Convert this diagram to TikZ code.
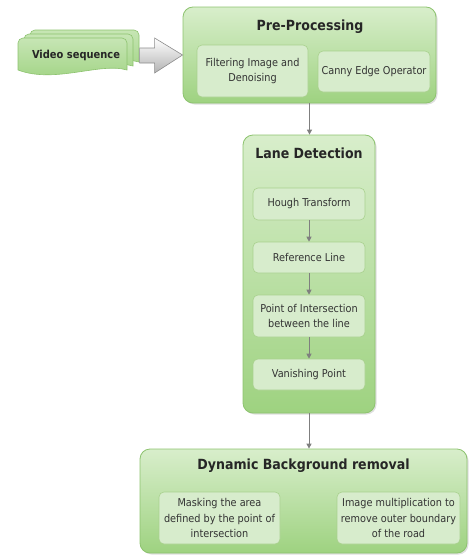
\documentclass[tikz,border=0pt]{standalone}
\usepackage{fontspec}
\setmainfont{DejaVu Sans Condensed}
\usetikzlibrary{shadows,calc,arrows.meta}
\definecolor{obord}{HTML}{8DC36F}
\definecolor{otop}{HTML}{D8EECB}
\definecolor{obot}{HTML}{9ED280}
\definecolor{ibord}{HTML}{A9D18E}
\definecolor{ifill}{HTML}{D7ECCC}
\definecolor{conn}{HTML}{7F7F7F}
\definecolor{itext}{HTML}{333333}
\tikzset{
  outerbox/.style={draw=obord, line width=0.8pt, rounded corners=10pt, top color=otop, bottom color=obot, inner sep=0pt,
    drop shadow={shadow xshift=1.5pt, shadow yshift=-1.5pt, opacity=0.25}},
  innerbox/.style={draw=ibord, line width=0.6pt, rounded corners=5pt, fill=ifill, inner sep=1pt, align=center,
    font=\fontsize{10.8}{15.5}\selectfont, text=itext},
  titletext/.style={font=\bfseries\fontsize{14}{16}\selectfont, text=black!85},
  flow/.style={draw=conn, line width=1pt, -{Triangle[length=5pt,width=5pt]}},
  docshape/.style={draw=obord, line width=0.6pt, top color=otop!70!obot, bottom color=obot},
}
\begin{document}
\begin{tikzpicture}[x=1pt,y=-1pt]
\useasboundingbox (0,0) rectangle (473,557);
% Video sequence stacked documents
\foreach \dx/\dy in {12/-8,6/-4,0/0}{
  \path[docshape] ($(18,70)+(\dx,\dy)$) [rounded corners=5pt] -- ($(18,38)+(\dx,\dy)$)
    -- ($(127,38)+(\dx,\dy)$) [sharp corners] -- ($(127,70)+(\dx,\dy)$)
    .. controls ($(100,62)+(\dx,\dy)$) and ($(55,84)+(\dx,\dy)$) .. ($(18,70)+(\dx,\dy)$) -- cycle;
}
\node[font=\bfseries\fontsize{11}{12}\selectfont, text=black!85] (vid) at (76,55) {Video sequence};
% Pre-Processing
\node[outerbox, minimum width=253pt, minimum height=96pt] (pre) at (309.5,55) {};
\node[titletext] (pret) at (310,27) {Pre-Processing};
\node[innerbox, minimum width=111pt, minimum height=52pt] (filt) at (252.5,71) {Filtering Image and\\Denoising};
\node[innerbox, minimum width=112pt, minimum height=41pt] (canny) at (374,71.5) {Canny Edge Operator};
% block arrow
\path[draw=black!45, line width=0.6pt, top color=white, bottom color=black!30]
  ($(pre.west)+(-43,-7)$) -- ($(pre.west)+(-28,-7)$) -- ($(pre.west)+(-28,-17)$) -- (pre.west)
  -- ($(pre.west)+(-28,18)$) -- ($(pre.west)+(-28,8)$) -- ($(pre.west)+(-43,8)$) -- cycle;
% Lane Detection
\node[outerbox, minimum width=132pt, minimum height=278pt] (lane) at (309,274) {};
\node[titletext] (lanet) at (309,153) {Lane Detection};
\node[innerbox, minimum width=112pt, minimum height=32pt] (hough) at (309,204) {Hough Transform};
\node[innerbox, minimum width=112pt, minimum height=31pt] (ref) at (309,257.5) {Reference Line};
\node[innerbox, minimum width=112pt, minimum height=42pt] (poi) at (309,316) {Point of Intersection\\between the line};
\node[innerbox, minimum width=112pt, minimum height=31pt] (van) at (309,374.5) {Vanishing Point};
% Dynamic background removal
\node[outerbox, minimum width=327pt, minimum height=104pt] (dyn) at (303.5,501) {};
\node[titletext] (dynt) at (303.5,466) {Dynamic Background removal};
\node[innerbox, minimum width=121pt, minimum height=52pt] (mask) at (219.5,518) {Masking the area\\defined by the point of\\intersection};
\node[innerbox, minimum width=123pt, minimum height=52pt] (imul) at (398.5,518) {Image multiplication to\\remove outer boundary\\of the road};
% connectors
\draw[flow] (pre.south) -- (pre.south |- lane.north);
\draw[flow] (hough) -- (ref);
\draw[flow] (ref) -- (poi);
\draw[flow] (poi) -- (van);
\draw[flow] (lane.south) -- (lane.south |- dyn.north);
\end{tikzpicture}
\end{document}
